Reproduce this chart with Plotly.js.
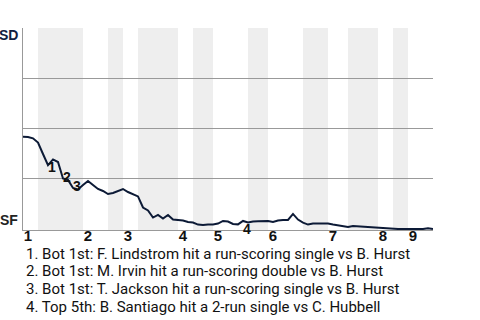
<!DOCTYPE html>
<html>
<head>
<meta charset="utf-8">
<script src="https://cdn.plot.ly/plotly-3.0.1.min.js"></script>
<style>html,body{margin:0;padding:0;background:#fff;}#chart{width:480px;height:320px;}</style>
</head>
<body>
<div id="chart"></div>
<script>
// Win probability for SD after each plate appearance (0 = SF wins, 1 = SD wins)
const winProb = [0.459,0.458,0.451,0.430,0.373,0.318,0.346,0.333,0.251,0.244,
  0.204,0.197,0.219,0.239,0.219,0.199,0.189,0.174,0.179,0.189,
  0.199,0.184,0.172,0.162,0.107,0.092,0.057,0.070,0.052,0.070,
  0.047,0.045,0.042,0.035,0.032,0.022,0.020,0.022,0.022,0.027,
  0.040,0.037,0.025,0.023,0.040,0.032,0.037,0.038,0.040,0.040,
  0.035,0.042,0.045,0.045,0.075,0.047,0.032,0.022,0.027,0.027,
  0.025,0.027,0.022,0.017,0.015,0.010,0.015,0.013,0.012,0.011,
  0.008,0.005,0.003,0.001,0.000,0.000,0.000,0.000,0.000,0.000,
  0.000,0.004,0.000];
const paIndex = winProb.map((_, i) => i);
// Half-inning boundaries (plate appearance index)
const topStarts = [0, 12, 20, 31, 38, 49, 61, 71, 77];
const botStarts = [3, 17, 23, 34, 45, 56, 65, 74];
const botEnds   = [12, 20, 31, 38, 49, 61, 71, 77];
const inningLabels = ['1','2','3','4','5','6','7','8','9'];
// Key events
const eventIdx = [5, 8, 11, 44];
const eventLabels = ['1','2','3','4'];
const eventShift = [[4,-2],[4,2],[-1,3],[4,-8]];
const eventTexts = [
  '1. Bot 1st: F. Lindstrom hit a run-scoring single vs B. Hurst',
  '2. Bot 1st: M. Irvin hit a run-scoring double vs B. Hurst',
  '3. Bot 1st: T. Jackson hit a run-scoring single vs B. Hurst',
  '4. Top 5th: B. Santiago hit a 2-run single vs C. Hubbell'
];
const teamTop = 'SD', teamBottom = 'SF';

const font = 'Roboto';
const boldFont = '"Liberation Sans", Arial, sans-serif';
const shapes = botStarts.map((s, i) => ({
  type: 'rect', xref: 'x', yref: 'paper', x0: s, x1: botEnds[i], y0: 0, y1: 1,
  fillcolor: '#eeeeee', line: {width: 0}, layer: 'below'
}));

const annotations = [];
eventIdx.forEach((k, i) => {
  annotations.push({x: paIndex[k], y: winProb[k], xref: 'x', yref: 'y', text: '<b>' + eventLabels[i] + '</b>',
    showarrow: false, xshift: eventShift[i][0], yshift: eventShift[i][1],
    font: {family: boldFont, size: 14, color: '#111'}});
});
eventTexts.forEach((t, i) => {
  annotations.push({x: 0, y: 0, xref: 'paper', yref: 'paper', text: t, showarrow: false,
    xanchor: 'left', yanchor: 'middle', xshift: 1, yshift: -23.5 - i * 17.8,
    font: {family: font, size: 15, color: '#111'}});
});
annotations.push({x: 0, y: 1, xref: 'paper', yref: 'paper', text: '<b>' + teamTop + '</b>', showarrow: false,
  xanchor: 'right', yanchor: 'middle', xshift: -3, yshift: -7,
  font: {family: boldFont, size: 14, color: '#10203f'}});
annotations.push({x: 0, y: 0, xref: 'paper', yref: 'paper', text: '<b>' + teamBottom + '</b>', showarrow: false,
  xanchor: 'right', yanchor: 'middle', xshift: -3, yshift: 10,
  font: {family: boldFont, size: 14, color: '#222'}});

const trace = {
  x: paIndex, y: winProb, type: 'scatter', mode: 'lines',
  line: {color: '#0c1a36', width: 2}, hoverinfo: 'skip'
};

const layout = {
  width: 480, height: 320,
  margin: {l: 23, r: 47, t: 28, b: 90},
  paper_bgcolor: '#fff', plot_bgcolor: '#fff',
  showlegend: false,
  xaxis: {
    range: [0, paIndex[paIndex.length - 1]],
    tickvals: topStarts.map(v => v + 1), ticktext: inningLabels.map(t => '<b>' + t + '</b>'),
    tickfont: {family: boldFont, size: 15, color: '#111'},
    ticklabelstandoff: -8,
    showgrid: false, zeroline: false, showline: true, linecolor: '#999', linewidth: 1,
    ticks: '', fixedrange: true
  },
  yaxis: {
    range: [-0.005, 1], tickvals: [0.25, 0.5, 0.75, 1], showticklabels: false,
    showgrid: true, gridcolor: '#999', gridwidth: 1, zeroline: false,
    showline: true, linecolor: '#999', linewidth: 1, ticks: '', fixedrange: true
  },
  shapes: shapes,
  annotations: annotations
};

Plotly.newPlot('chart', [trace], layout, {displayModeBar: false, staticPlot: true});
</script>
</body>
</html>
